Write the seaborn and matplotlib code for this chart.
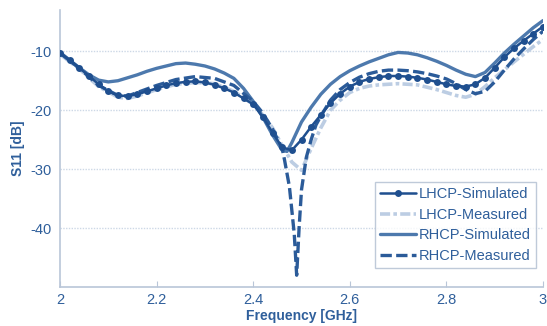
import numpy as np
import pandas as pd
import matplotlib
matplotlib.use("Agg")
import matplotlib.pyplot as plt
import seaborn as sns

# ---- data ----
lhcp_sim_f = [2.00, 2.02, 2.04, 2.06, 2.08, 2.10, 2.12, 2.14, 2.16, 2.18, 2.20, 2.22, 2.24,
              2.26, 2.28, 2.30, 2.32, 2.34, 2.36, 2.38, 2.40, 2.42, 2.44, 2.46, 2.48, 2.50,
              2.52, 2.54, 2.56, 2.58, 2.60, 2.62, 2.64, 2.66, 2.68, 2.70, 2.72, 2.74, 2.76,
              2.78, 2.80, 2.82, 2.84, 2.86, 2.88, 2.90, 2.92, 2.94, 2.96, 2.98, 3.00]
lhcp_sim_db = [-10.3, -11.5, -12.8, -14.2, -15.6, -16.8, -17.5, -17.6, -17.3, -16.8, -16.3,
               -15.8, -15.4, -15.2, -15.1, -15.3, -15.7, -16.3, -17.0, -18.0, -19.0, -21.2,
               -23.8, -26.3, -26.8, -25.0, -22.8, -20.8, -18.8, -17.2, -16.0, -15.2, -14.7,
               -14.4, -14.2, -14.2, -14.3, -14.5, -14.8, -15.2, -15.6, -15.9, -16.0, -15.6,
               -14.5, -12.8, -11.0, -9.5, -8.2, -7.0, -5.8]

lhcp_meas_f = [2.00, 2.04, 2.08, 2.12, 2.14, 2.16, 2.20, 2.24, 2.28, 2.32, 2.36, 2.40, 2.42,
               2.44, 2.46, 2.48, 2.50, 2.52, 2.54, 2.56, 2.58, 2.60, 2.62, 2.64, 2.66, 2.68,
               2.70, 2.74, 2.78, 2.82, 2.84, 2.86, 2.88, 2.90, 2.94, 2.98, 3.00]
lhcp_meas_db = [-10.5, -13.0, -16.0, -17.8, -18.0, -17.6, -16.5, -15.6, -15.3, -15.5, -16.8,
                -19.0, -20.8, -23.0, -26.0, -28.8, -30.2, -26.5, -23.0, -20.0, -18.3, -17.0,
                -16.3, -15.9, -15.7, -15.6, -15.5, -15.7, -16.5, -17.5, -17.8, -17.3, -16.0,
                -14.5, -11.8, -9.2, -8.0]

rhcp_sim_f = [2.00, 2.02, 2.04, 2.06, 2.08, 2.10, 2.12, 2.14, 2.16, 2.18, 2.20, 2.22, 2.24,
              2.26, 2.28, 2.30, 2.32, 2.34, 2.36, 2.38, 2.40, 2.42, 2.44, 2.46, 2.47, 2.48,
              2.50, 2.52, 2.54, 2.56, 2.58, 2.60, 2.62, 2.64, 2.66, 2.68, 2.70, 2.72, 2.74,
              2.76, 2.78, 2.80, 2.82, 2.84, 2.86, 2.88, 2.90, 2.92, 2.94, 2.96, 2.98, 3.00]
rhcp_sim_db = [-10.2, -11.5, -12.8, -14.0, -14.9, -15.2, -15.0, -14.5, -14.0, -13.4, -12.9,
               -12.5, -12.1, -12.0, -12.2, -12.5, -13.0, -13.7, -14.6, -16.3, -18.5, -21.2,
               -24.2, -26.8, -27.0, -25.5, -22.0, -19.5, -17.3, -15.6, -14.3, -13.3, -12.5,
               -11.8, -11.2, -10.6, -10.2, -10.3, -10.6, -11.1, -11.7, -12.4, -13.2, -13.9,
               -14.3, -13.6, -12.0, -10.3, -8.8, -7.4, -6.0, -4.8]

rhcp_meas_f = [2.00, 2.04, 2.08, 2.12, 2.14, 2.16, 2.20, 2.24, 2.28, 2.32, 2.36, 2.40, 2.42,
               2.44, 2.46, 2.465, 2.475, 2.485, 2.49, 2.495, 2.50, 2.51, 2.52, 2.53, 2.54,
               2.56, 2.58, 2.60, 2.62, 2.64, 2.66, 2.68, 2.70, 2.72, 2.74, 2.76, 2.78, 2.80,
               2.82, 2.84, 2.86, 2.88, 2.90, 2.92, 2.94, 2.96, 2.98, 3.00]
rhcp_meas_db = [-10.3, -12.9, -15.8, -17.5, -17.6, -17.0, -15.8, -14.8, -14.3, -14.6, -15.8,
                -18.5, -20.5, -23.2, -26.5, -28.5, -33.0, -41.0, -48.0, -40.0, -33.5, -28.0,
                -25.0, -22.5, -21.0, -18.3, -16.5, -15.3, -14.4, -13.8, -13.4, -13.2, -13.2,
                -13.3, -13.5, -13.8, -14.2, -14.7, -15.5, -16.5, -17.2, -16.8, -15.2, -13.2,
                -11.3, -9.6, -8.0, -6.6]

series_labels = ["LHCP-Simulated", "LHCP-Measured", "RHCP-Simulated", "RHCP-Measured"]
x_ticks = [2.0, 2.2, 2.4, 2.6, 2.8, 3.0]
x_tick_labels = ["2", "2.2", "2.4", "2.6", "2.8", "3"]
y_ticks = [-10, -20, -30, -40]
y_tick_labels = ["-10", "-20", "-30", "-40"]

# ---- styling ----
sns.set_style("white")
plt.rcParams["font.family"] = ["Liberation Sans", "DejaVu Sans"]
text_c = "#2f5f9b"
spine_c = "#b9c6d8"

fig = plt.figure(figsize=(5.47, 3.26), dpi=100)
ax = fig.add_axes([60 / 547, 1 - 287 / 326, 483 / 547, 277 / 326])

sns.lineplot(x=lhcp_meas_f, y=lhcp_meas_db, ax=ax, color="#bccde3", lw=2.6,
             linestyle=(0, (2.8, 0.9, 1.0, 0.9)), legend=False, zorder=2)
l_lm = ax.lines[-1]
sns.lineplot(x=rhcp_sim_f, y=rhcp_sim_db, ax=ax, color="#4d79ad", lw=2.4,
             legend=False, zorder=3)
l_rs = ax.lines[-1]
sns.lineplot(x=rhcp_meas_f, y=rhcp_meas_db, ax=ax, color="#2b5b99", lw=2.4,
             linestyle=(0, (3.4, 1.3)), legend=False, zorder=3)
l_rm = ax.lines[-1]
sns.lineplot(x=lhcp_sim_f, y=lhcp_sim_db, ax=ax, color="#1f4f8f", lw=1.8,
             marker="o", markersize=5, markeredgewidth=0, legend=False, zorder=4)
l_ls = ax.lines[-1]
for ln, lab in zip([l_ls, l_lm, l_rs, l_rm], series_labels):
    ln.set_label(lab)

ax.set_xlim(2.0, 3.0)
ax.set_ylim(-50, -3)
ax.set_xticks(x_ticks)
ax.set_xticklabels(x_tick_labels)
ax.set_yticks(y_ticks)
ax.set_yticklabels(y_tick_labels)
ax.yaxis.grid(True, color="#cdd8e6", linestyle=(0, (1, 1)), lw=1.0)
ax.xaxis.grid(False)
for s in ["top", "right"]:
    ax.spines[s].set_visible(False)
for s in ["left", "bottom"]:
    ax.spines[s].set_color(spine_c)
    ax.spines[s].set_linewidth(1.2)
ax.tick_params(axis="x", colors=spine_c, labelcolor=text_c, labelsize=10.5,
               direction="in", length=4, bottom=True, pad=4)
ax.tick_params(axis="y", labelcolor=text_c, labelsize=10.5, length=0, pad=6)

ax.set_xlabel("Frequency [GHz]", color=text_c, fontsize=10, fontweight="bold", labelpad=2)
ax.set_ylabel("S11 [dB]", color=text_c, fontsize=10, fontweight="bold", labelpad=4)

leg = ax.legend(handles=[l_ls, l_lm, l_rs, l_rm], loc="lower right",
                bbox_to_anchor=(0.985, 0.068), fontsize=10.5,
                frameon=True, fancybox=False, handlelength=2.5, handletextpad=0.15,
                labelspacing=0.45, borderpad=0.35, borderaxespad=0)
leg.get_frame().set_edgecolor("#b0bdd0")
leg.get_frame().set_linewidth(1.0)
for t in leg.get_texts():
    t.set_color(text_c)

fig.savefig("out.png", dpi=100)
